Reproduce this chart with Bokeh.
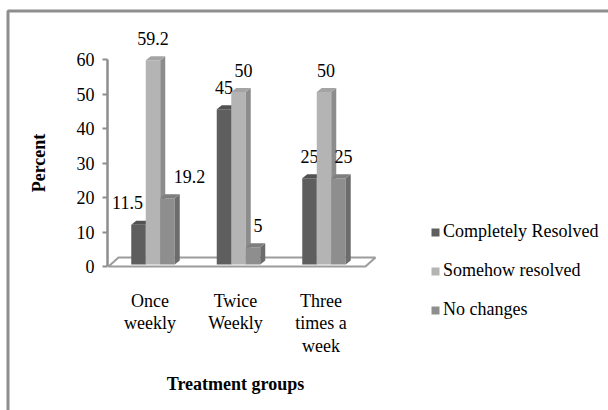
from bokeh.plotting import figure
from bokeh.models import Range1d, LinearAxis, FixedTicker, Legend, LegendItem, ColumnDataSource
from bokeh.core.properties import value
from bokeh.embed import file_html
from bokeh.resources import INLINE

# ---------------- data ----------------
categories = ["Once\nweekly", "Twice\nWeekly", "Three\ntimes a\nweek"]
series_names = ["Completely Resolved", "Somehow resolved", "No changes"]
completely_resolved = [11.5, 45, 25]
somehow_resolved = [59.2, 50, 50]
no_changes = [19.2, 5, 25]
y_ticks = [0, 10, 20, 30, 40, 50, 60]
x_axis_title = "Treatment groups"
y_axis_title = "Percent"

series_values = [completely_resolved, somehow_resolved, no_changes]

# ---------------- styles ----------------
FONT = "Liberation Serif"
front_colors = ["#5e5e5e", "#b4b4b4", "#8e8e8e"]
side_colors = ["#464646", "#8c8c8c", "#6c6c6c"]
top_colors = ["#525252", "#a4a4a4", "#7e7e7e"]
# pixel nudges for value labels (series x group)
label_nudge = [[-11, 0, 0], [0, 5, 2], [22, 5, 5]]

W, H = 608, 410
X0, XS = 152.5, 85.5     # pixel of first group centre, pixels per group
Y0, YS = 266.0, 3.45     # pixel of value 0, pixels per percent


def dx(px):
    return px / XS


def dy(px):
    return px / YS


def xd(px):
    return (px - X0) / XS


def yd(py):
    return (Y0 - py) / YS


p = figure(width=W, height=H,
           x_range=Range1d(xd(0), xd(W)), y_range=Range1d(yd(H), yd(0)),
           output_backend="svg", toolbar_location=None,
           x_axis_location=None, y_axis_location=None,
           min_border=0, min_border_left=0, min_border_right=0,
           min_border_top=0, min_border_bottom=0,
           outline_line_color=None, background_fill_color="white",
           border_fill_color="white")
p.grid.visible = False

# outer chart border (left and top visible)
p.line(x=[xd(7.5), xd(7.5), xd(W + 5)], y=[yd(H + 5), yd(10.5), yd(10.5)],
       line_color="#8e8e8e", line_width=3)

# 3D floor
n = len(categories)
fl_x0, fl_x1 = xd(108), (n - 1) + 0.485
fdx, fdy = dx(10), dy(9)
p.patch([fl_x0, fl_x1, fl_x1 + fdx, fl_x0 + fdx], [0, 0, fdy, fdy],
        fill_color="white", line_color="#9c9c9c", line_width=2)

# bars
BW = dx(14.5)
DX, DY = dx(5), dy(4)
base = yd(264)
legend_items = []
for s, vals in enumerate(series_values):
    lefts = [g + (s - 1.5) * BW for g in range(n)]
    rights = [l + BW for l in lefts]
    tops = [base + v for v in vals]
    src = ColumnDataSource(dict(left=lefts, right=rights, top=tops, bottom=[base] * n))
    r = p.quad(left="left", right="right", top="top", bottom="bottom", source=src,
               fill_color=front_colors[s], line_color=None)
    p.patches(xs=[[rr, rr + DX, rr + DX, rr] for rr in rights],
              ys=[[base, base + DY, t + DY, t] for t in tops],
              fill_color=side_colors[s], line_color=None)
    p.patches(xs=[[l, rr, rr + DX, l + DX] for l, rr in zip(lefts, rights)],
              ys=[[t, t, t + DY, t + DY] for t in tops],
              fill_color=top_colors[s], line_color=None)
    lab = ColumnDataSource(dict(x=[(l + rr) / 2 for l, rr in zip(lefts, rights)], y=tops,
                                text=[f"{v:g}" for v in vals], xo=label_nudge[s]))
    p.text(x="x", y="y", text="text", source=lab, x_offset="xo", y_offset=-22,
           text_align="center", text_baseline="middle",
           text_font=value(FONT), text_font_size="18px", text_color="black")
    legend_items.append(LegendItem(label=series_names[s], renderers=[r]))

# category labels
cat_src = ColumnDataSource(dict(x=list(range(n)), y=[yd(290)] * n, text=categories))
p.text(x="x", y="y", text="text", source=cat_src, x_offset=-3,
       text_align="center", text_baseline="top", text_line_height=1.14,
       text_font=value(FONT), text_font_size="18px", text_color="black")

# x axis title
p.text(x=[xd(235)], y=[yd(383)], text=[x_axis_title], text_align="center",
       text_baseline="middle", text_font=value(FONT), text_font_size="18px",
       text_font_style="bold", text_color="black")

# y axis
yax = LinearAxis(fixed_location=xd(107), bounds=(y_ticks[0], y_ticks[-1]),
                 ticker=FixedTicker(ticks=y_ticks), axis_label=y_axis_title)
yax.axis_line_color = "#8e8e8e"
yax.axis_line_width = 2.5
yax.major_tick_line_color = "#8e8e8e"
yax.major_tick_line_width = 2
yax.major_tick_out = 5
yax.major_tick_in = 0
yax.minor_tick_line_color = None
yax.major_label_text_font = FONT
yax.major_label_text_font_size = "18px"
yax.major_label_text_color = "black"
yax.major_label_standoff = 8
yax.axis_label_text_font = FONT
yax.axis_label_text_font_size = "18px"
yax.axis_label_text_font_style = "bold"
yax.axis_label_text_color = "black"
yax.axis_label_standoff = 25
p.add_layout(yax, "left")

legend = Legend(items=legend_items, location=(430, 90),
                glyph_width=10, glyph_height=10, label_standoff=3,
                label_text_font=FONT, label_text_font_size="18px",
                label_text_color="black", label_height=20, spacing=18,
                padding=0, margin=0, border_line_color=None,
                background_fill_alpha=0)
p.add_layout(legend)

open("out.html", "w").write(file_html(p, INLINE))
